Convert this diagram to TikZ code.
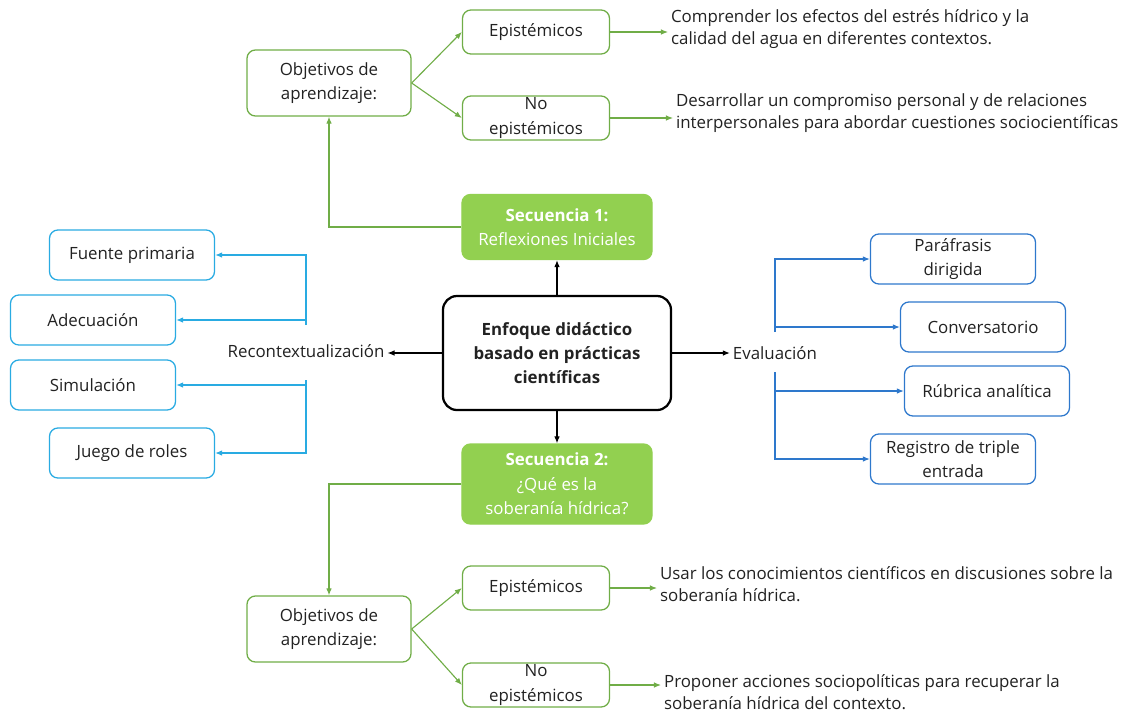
\documentclass[tikz,border=0pt]{standalone}
\usepackage{fontspec}
\setmainfont{Open Sans}
\usetikzlibrary{arrows.meta}
\definecolor{verde}{HTML}{70AD47}
\definecolor{verdeF}{HTML}{92D050}
\definecolor{celeste}{HTML}{29ABE2}
\definecolor{azul}{HTML}{2E78CC}
\definecolor{tinta}{HTML}{222222}
\tikzset{
  caja/.style={rounded corners=6pt,line width=0.9pt,align=center,inner sep=0pt,
    font=\fontsize{12}{17.5}\selectfont,text=tinta},
  obj/.style={caja,draw=verde,minimum width=4.1cm,minimum height=1.65cm},
  epi/.style={caja,draw=verde,minimum width=3.675cm,minimum height=1.1cm},
  sec/.style={caja,draw=verdeF,fill=verdeF,text=white,minimum width=4.75cm},
  celes/.style={caja,draw=celeste,minimum width=4.125cm,minimum height=1.25cm},
  azu/.style={caja,draw=azul,minimum width=4.125cm,minimum height=1.25cm},
  texto/.style={align=left,anchor=west,inner sep=2pt,
    font=\fontsize{12}{15.5}\selectfont,text=tinta},
  flechaV/.style={draw=verde,line width=0.8pt,-{Latex[length=5pt,width=4pt]}},
  flechaN/.style={draw=black,line width=0.8pt,-{Latex[length=5pt,width=4pt]}},
  flechaC/.style={draw=celeste,line width=0.8pt,-{Latex[length=5pt,width=4pt]}},
  flechaA/.style={draw=azul,line width=0.8pt,-{Latex[length=5pt,width=4pt]}}
}
\begin{document}
\begin{tikzpicture}[x=0.025cm,y=-0.025cm]
  \useasboundingbox (0,0) rectangle (1138,713);%marco

  % centro
  \node[caja,draw=black,line width=1.6pt,rounded corners=10pt,minimum width=5.7cm,
    minimum height=2.85cm,font=\bfseries\fontsize{12}{17}\selectfont](centro)at(557,353)
    {Enfoque didáctico\\basado en prácticas\\científicas};
  \node[sec,minimum height=1.625cm](sec1)at(557,227)
    {\textbf{Secuencia 1:}\\Reflexiones Iniciales};
  \node[sec,minimum height=2cm](sec2)at(557,484)
    {\textbf{Secuencia 2:}\\¿Qué es la\\soberanía hídrica?};
  \draw[flechaN](centro.north)--(sec1.south);
  \draw[flechaN](centro.south)--(sec2.north);

  % secuencia 1
  \node[obj](obj1)at(329,83){Objetivos de\\aprendizaje:};
  \node[epi](epi1)at(536,32){Epistémicos};
  \node[epi](noe1)at(536,118){No\\epistémicos};
  \node[texto](txt1)at(668,29)
    {Comprender los efectos del estrés hídrico y la\\calidad del agua en diferentes contextos.};
  \node[texto](txt2)at(673,113)
    {Desarrollar un compromiso personal y de relaciones\\interpersonales para abordar cuestiones sociocientíficas};
  \draw[flechaV](sec1.west)-|(obj1.south);
  \draw[flechaV](obj1.east)--(epi1.west);
  \draw[flechaV](obj1.east)--(noe1.west);
  \draw[flechaV](epi1.east)--(epi1.east-|txt1.west);
  \draw[flechaV](noe1.east)--(noe1.east-|txt2.west);

  % secuencia 2
  \node[obj](obj2)at(329,629){Objetivos de\\aprendizaje:};
  \node[epi](epi2)at(536,588){Epistémicos};
  \node[epi](noe2)at(536,685){No\\epistémicos};
  \node[texto](txt3)at(657,584)
    {Usar los conocimientos científicos en discusiones sobre la\\soberanía hídrica.};
  \node[texto](txt4)at(661,692)
    {Proponer acciones sociopolíticas para recuperar la\\soberanía hídrica del contexto.};
  \draw[flechaV](sec2.west)-|(obj2.north);
  \draw[flechaV](obj2.east)--(epi2.west);
  \draw[flechaV](obj2.east)--(noe2.west);
  \draw[flechaV](epi2.east)--(epi2.east-|txt3.west);
  \draw[flechaV](noe2.east)--(noe2.east-|txt4.west);

  % recontextualizacion
  \node[texto,anchor=center](reco)at(306,351){Recontextualización};
  \node[celes](fuen)at(132,255){Fuente primaria};
  \node[celes](adec)at(93,320){Adecuación};
  \node[celes](simu)at(93,385){Simulación};
  \node[celes](jueg)at(132,453){Juego de roles};
  \coordinate(rArriba)at(306,325);
  \coordinate(rAbajo)at(306,380);
  \draw[flechaN](centro.west)--(centro.west-|reco.east);
  \draw[flechaC](rArriba)|-(fuen.east);
  \draw[flechaC](rArriba|-adec.east)--(adec.east);
  \draw[flechaC](rAbajo)|-(simu.east);
  \draw[flechaC](rAbajo)|-(jueg.east);

  % evaluacion
  \node[texto,anchor=center](eval)at(775,353){Evaluación};
  \node[azu](para)at(953,259){Paráfrasis\\dirigida};
  \node[azu](conv)at(983,327){Conversatorio};
  \node[azu](rubr)at(987,391){Rúbrica analítica};
  \node[azu](regi)at(953,459){Registro de triple\\entrada};
  \coordinate(eArriba)at(775,332);
  \coordinate(eAbajo)at(775,372);
  \draw[flechaN](centro.east)--(centro.east-|eval.west);
  \draw[flechaA](eArriba)|-(para.west);
  \draw[flechaA](eArriba|-conv.west)--(conv.west);
  \draw[flechaA](eAbajo)|-(rubr.west);
  \draw[flechaA](eAbajo)|-(regi.west);
\end{tikzpicture}
\end{document}
